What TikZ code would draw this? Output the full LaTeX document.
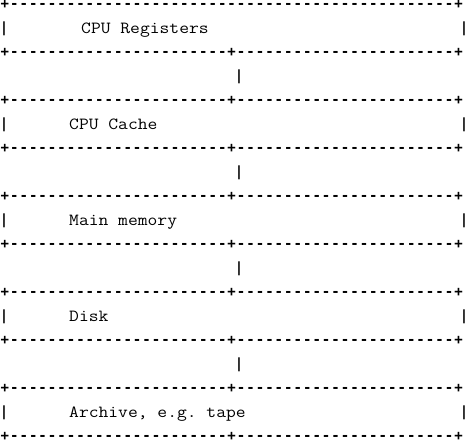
\documentclass[tikz,border=0pt]{standalone}
\usepackage{graphicx}
\usepackage{fontspec}
\newfontfamily\rimtt{DejaVu Sans Mono}

\newcommand\rimfont{\rimtt\bfseries\fontsize{14}{14}\selectfont}
\newcommand\tagfont{\ttfamily\frenchspacing\fontsize{17}{17}\selectfont}
\newcommand\cell[1]{\makebox[9.45pt]{#1}}
\newcommand\dashes[1]{\foreach \n in {1,...,#1}{\cell{-}}}
\newcommand\midv[1]{\raisebox{\dimexpr(\depth-\height)/2\relax}{#1}}
\newcommand\fullrim{\hbox{\rimfont\midv{\cell{+}\dashes{47}\cell{+}}}}
\newcommand\splitrim{\hbox{\rimfont\midv{\cell{+}\dashes{23}\cell{+}\dashes{23}\cell{+}}}}
\newcommand\tagline[2]{\hbox to 466pt{%
  \rlap{\kern4pt\makebox[0pt]{\rimfont\midv{|}}}%
  \rlap{\kern#2pt\tagfont\raisebox{-.5\fontcharht\font`\C}{\scalebox{1.12}[1]{#1}}}%
  \hfil\llap{\makebox[0pt]{\rimfont\midv{|}}\kern2pt}}}
\newcommand\memlevel[3]{\vtop{\baselineskip=24pt\lineskiplimit=-100pt\lineskip=0pt
  #3\tagline{#1}{#2}\splitrim}}

\begin{document}
\begin{tikzpicture}[x=1pt, y=-1pt,
  level/.style={anchor=base west, inner sep=0pt},
  link/.style={inner sep=0pt, font=\rimfont}]
\path[use as bounding box, fill=white] (0,0) rectangle (466,442);

\node[level] (regs) at (0,4.5) {\memlevel{CPU Registers}{81}{\fullrim}};
\node[level] (cache) at (0,100.5) {\memlevel{CPU Cache}{69}{\splitrim}};
\node[level] (ram) at (0,196.5) {\memlevel{Main memory}{69}{\splitrim}};
\node[level] (disk) at (0,292.5) {\memlevel{Disk}{69}{\splitrim}};
\node[level] (tape) at (0,388.5) {\memlevel{Archive, e.g. tape}{69}{\splitrim}};

\node[link] (link1) at (239,76.5) {|};
\node[link] (link2) at (239,172.5) {|};
\node[link] (link3) at (239,268.5) {|};
\node[link] (link4) at (239,364.5) {|};
\end{tikzpicture}
\end{document}
